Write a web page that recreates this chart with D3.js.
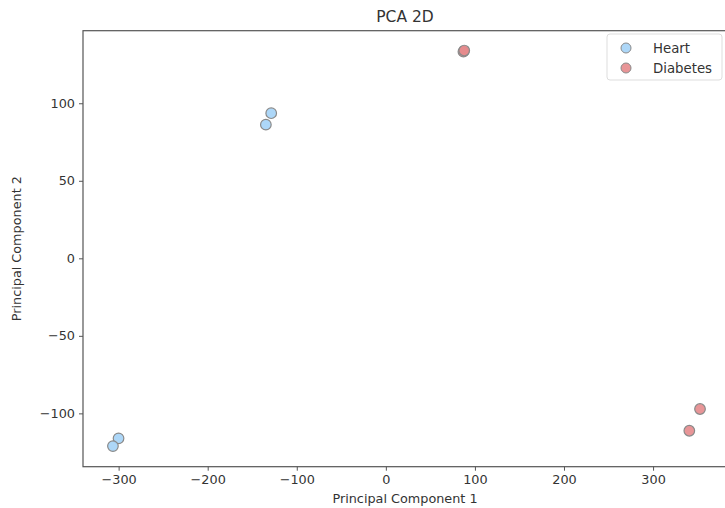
<!DOCTYPE html>
<html><head><meta charset="utf-8">
<script src="https://cdn.jsdelivr.net/npm/d3@7/dist/d3.min.js"></script>
<style>body{margin:0;background:#fff}svg{display:block}text{font-family:"DejaVu Sans",sans-serif;fill:#333}</style>
</head><body><svg id="c" width="725" height="508"></svg>
<script>
const heartX = [-128.7, -134.7, -300.1, -306.4];
const heartY = [93.6, 86.2, -116.1, -121.1];
const diabetesX = [87.1, 88.0, 352.7, 340.7];
const diabetesY = [133.3, 134.0, -97.2, -111.2];
const xTicks = [-300, -200, -100, 0, 100, 200, 300];
const yTicks = [-100, -50, 0, 50, 100];
const seriesNames = ["Heart", "Diabetes"];
const seriesColors = ["#a4d3f7", "#e68a8c"];

const svg = d3.select("#c");
const L = 83, R = 727, T = 30.7, B = 466.7;
const x = d3.scaleLinear().domain([-340, 383]).range([L, R]);
const y = d3.scaleLinear().domain([-134.4, 146.8]).range([B, T]);

svg.append("rect").attr("x", L).attr("y", T).attr("width", R - L).attr("height", B - T)
  .attr("fill", "none").attr("stroke", "#555").attr("stroke-width", 1.2);

const fmt = d => d3.format("")(d).replace("-", "\u2212");
const xa = svg.append("g").attr("transform", `translate(0,${B})`)
  .call(d3.axisBottom(x).tickValues(xTicks).tickSize(4).tickPadding(4).tickFormat(fmt));
const ya = svg.append("g").attr("transform", `translate(${L},0)`)
  .call(d3.axisLeft(y).tickValues(yTicks).tickSize(4).tickPadding(4).tickFormat(fmt));
[xa, ya].forEach(g => {
  g.select(".domain").remove();
  g.selectAll("line").attr("stroke", "#555");
  g.selectAll("text").attr("font-size", 12.8).attr("fill", "#333").style("font-family", "DejaVu Sans");
});

const data = [
  heartX.map((v, i) => ({x: v, y: heartY[i], s: 0})),
  diabetesX.map((v, i) => ({x: v, y: diabetesY[i], s: 1}))
].flat();

svg.append("g").selectAll("circle").data(data).join("circle")
  .attr("cx", d => x(d.x)).attr("cy", d => y(d.y)).attr("r", 5.3)
  .attr("fill", d => seriesColors[d.s]).attr("fill-opacity", 0.9)
  .attr("stroke", "#8a8a8a").attr("stroke-width", 1.2);

svg.append("text").attr("x", (L + R) / 2).attr("y", 22).attr("text-anchor", "middle")
  .attr("font-size", 15.5).text("PCA 2D");
svg.append("text").attr("x", (L + R) / 2).attr("y", 503).attr("text-anchor", "middle")
  .attr("font-size", 12.8).text("Principal Component 1");
svg.append("text").attr("transform", `translate(21,${(T + B) / 2}) rotate(-90)`).attr("text-anchor", "middle")
  .attr("font-size", 12.8).text("Principal Component 2");

const lg = svg.append("g");
lg.append("rect").attr("x", 607).attr("y", 34).attr("width", 115).attr("height", 46).attr("rx", 3)
  .attr("fill", "#fff").attr("fill-opacity", 0.8).attr("stroke", "#ddd");
seriesNames.forEach((n, i) => {
  lg.append("circle").attr("cx", 626).attr("cy", 48 + i * 20).attr("r", 5)
    .attr("fill", seriesColors[i]).attr("fill-opacity", 0.9).attr("stroke", "#8a8a8a").attr("stroke-width", 1);
  lg.append("text").attr("x", 653).attr("y", 52.5 + i * 20).attr("font-size", 13.3).text(n);
});
</script></body></html>
